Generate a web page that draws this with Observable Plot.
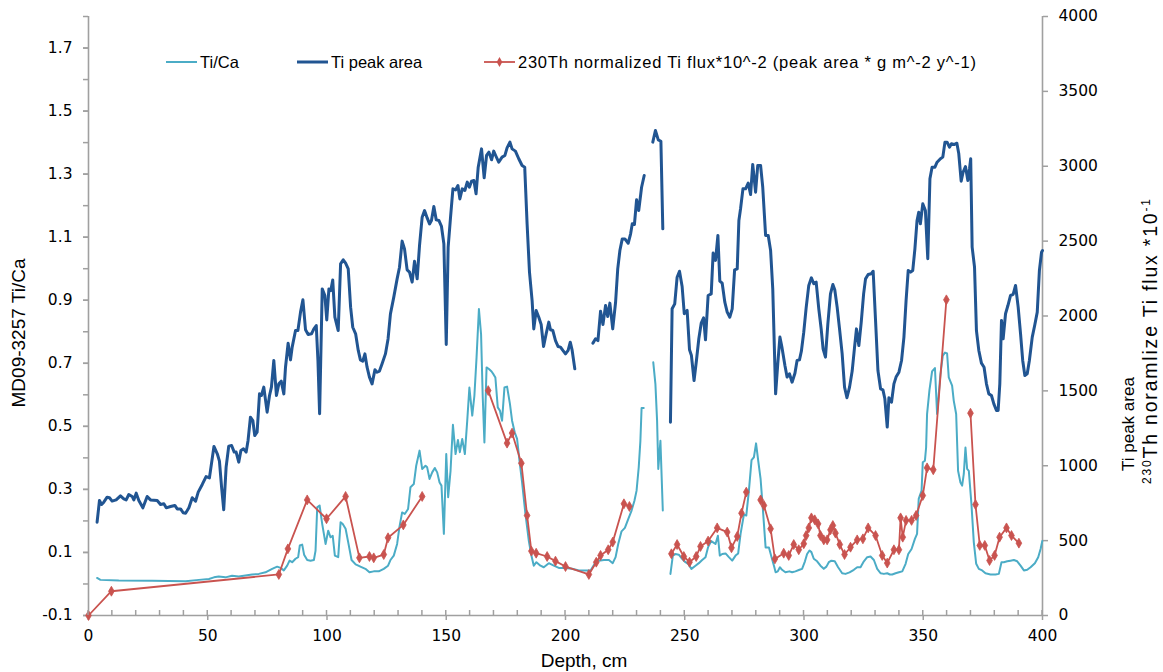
<!DOCTYPE html>
<html><head><meta charset="utf-8">
<script src="https://cdn.jsdelivr.net/npm/d3@7"></script>
<script src="https://cdn.jsdelivr.net/npm/@observablehq/plot@0.6"></script>
<style>body{margin:0;background:#fff;} svg{display:block}</style>
</head><body><div id="chart"></div>
<script>
// ---------- tick values ----------
const depthTicks = [0, 50, 100, 150, 200, 250, 300, 350, 400];
const depthMinorTicks = [0,10,20,30,40,50,60,70,80,90,100,110,120,130,140,150,160,170,180,190,200,210,220,230,240,250,260,270,280,290,300,310,320,330,340,350,360,370,380,390,400];
const leftTicks = [-0.1, 0.1, 0.3, 0.5, 0.7, 0.9, 1.1, 1.3, 1.5, 1.7];
const leftMinorTicks = [-0.1, 0, 0.1, 0.2, 0.3, 0.4, 0.5, 0.6, 0.7, 0.8, 0.9, 1.0, 1.1, 1.2, 1.3, 1.4, 1.5, 1.6, 1.7, 1.8];
const rightTicks = [0, 500, 1000, 1500, 2000, 2500, 3000, 3500, 4000];
const leftDomain = [-0.1, 1.8];
const rightDomain = [0, 4000];

// ---------- series: Ti/Ca (left axis) ; null = gap ----------
const tiCaDepth = [3.6,5.0,12.7,26.7,40.7,46.3,50.5,52.6,54.6,57.4,60.2,63.0,65.8,68.6,71.4,74.2,77.0,79.1,80.5,81.9,83.3,84.3,85.4,86.8,87.9,88.6,89.6,90.4,91.7,93.1,94.5,95.2,95.9,96.9,98.0,99.4,100.5,101.5,102.4,103.3,104.7,105.7,106.6,107.8,108.9,110.3,112.0,114.0,116.1,117.8,119.6,121.7,123.8,125.6,126.6,128.0,129.4,130.4,131.5,132.6,134.0,135.0,136.4,137.4,138.8,139.9,141.3,142.0,143.0,144.1,145.2,146.2,147.2,148.0,149.0,150.0,150.8,151.8,152.8,153.9,154.9,155.7,156.7,157.8,158.8,159.7,160.9,161.8,162.7,163.7,164.6,165.3,166.0,166.9,167.9,169.0,169.9,170.6,171.6,172.5,173.4,174.4,175.5,176.7,177.6,178.7,179.7,180.7,181.8,183.2,184.6,185.7,186.7,187.8,189.5,190.9,193.0,195.1,197.2,200.0,202.8,205.6,208.4,210.5,212.6,214.0,216.1,218.2,219.8,221.0,222.1,223.5,224.9,226.3,227.7,228.9,229.8,230.7,231.4,231.9,232.8,null,236.8,237.7,238.4,238.9,239.8,240.8,null,244.0,245.0,246.1,247.5,248.9,250.3,251.4,252.8,254.5,255.9,257.3,258.7,259.8,261.1,261.9,262.9,263.9,264.7,265.7,267.1,268.5,269.9,271.3,272.4,273.4,274.8,275.8,276.9,278.0,279.0,279.9,280.8,281.8,282.7,283.9,285.3,286.4,287.4,288.1,289.0,289.9,290.8,292.2,293.9,295.0,296.4,298.1,299.2,300.4,301.3,302.3,303.1,304.1,305.5,306.9,308.3,309.4,310.4,311.5,312.9,314.3,316.0,317.4,319.1,320.9,322.3,323.7,325.1,326.5,327.9,329.3,330.7,332.1,333.5,334.9,336.0,337.0,338.4,339.8,341.2,342.6,343.7,345.1,346.5,347.4,348.1,349.3,349.8,350.7,351.2,351.6,352.6,353.7,354.9,355.8,356.5,357.2,358.2,359.1,360.0,360.7,362.1,362.8,363.8,364.6,365.6,366.3,367.0,367.7,368.4,369.1,370.2,371.2,372.2,373.3,374.7,376.1,378.2,380.3,381.7,382.8,383.8,385.2,386.6,388.0,389.4,390.8,392.2,393.6,395.0,396.8,398.2,399.2,399.9];
const tiCa = [0.019,0.013,0.011,0.010,0.009,0.013,0.016,0.021,0.024,0.021,0.026,0.024,0.027,0.030,0.032,0.037,0.048,0.055,0.051,0.043,0.058,0.074,0.069,0.080,0.085,0.122,0.125,0.093,0.076,0.074,0.076,0.106,0.243,0.249,0.190,0.127,0.169,0.148,0.153,0.090,0.085,0.196,0.190,0.175,0.132,0.076,0.062,0.055,0.048,0.037,0.040,0.040,0.048,0.058,0.076,0.090,0.127,0.182,0.227,0.222,0.238,0.307,0.317,0.375,0.423,0.365,0.375,0.370,0.333,0.354,0.368,0.354,0.322,0.312,0.159,0.412,0.275,0.359,0.505,0.412,0.457,0.418,0.460,0.412,0.518,0.623,0.534,0.597,0.718,0.872,0.792,0.592,0.449,0.687,0.682,0.674,0.664,0.655,0.560,0.550,0.518,0.623,0.626,0.571,0.518,0.481,0.460,0.391,0.322,0.222,0.138,0.090,0.058,0.069,0.058,0.053,0.066,0.058,0.051,0.051,0.048,0.043,0.043,0.043,0.069,0.074,0.076,0.076,0.066,0.085,0.127,0.167,0.178,0.206,0.233,0.264,0.296,0.370,0.454,0.558,0.558,null,0.703,0.634,0.518,0.365,0.454,0.233,null,0.032,0.090,0.095,0.093,0.080,0.069,0.064,0.048,0.058,0.066,0.076,0.085,0.117,0.136,0.132,0.127,0.153,0.090,0.095,0.097,0.085,0.074,0.090,0.097,0.159,0.220,0.217,0.296,0.393,0.402,0.446,0.391,0.333,0.243,0.116,0.116,0.085,0.058,0.037,0.040,0.053,0.045,0.037,0.040,0.037,0.040,0.045,0.048,0.072,0.095,0.106,0.101,0.080,0.072,0.058,0.048,0.055,0.069,0.074,0.072,0.053,0.034,0.032,0.037,0.045,0.053,0.053,0.072,0.085,0.087,0.076,0.048,0.034,0.032,0.034,0.030,0.030,0.034,0.037,0.040,0.064,0.095,0.111,0.143,0.159,0.270,0.296,0.386,0.391,0.433,0.539,0.615,0.674,0.685,0.539,0.602,0.666,0.724,0.734,0.731,0.655,0.629,0.581,0.539,0.359,0.322,0.312,0.349,0.433,0.365,0.359,0.254,0.132,0.064,0.048,0.043,0.034,0.030,0.030,0.032,0.069,0.069,0.072,0.074,0.076,0.072,0.058,0.043,0.045,0.053,0.066,0.085,0.111,0.136];

// ---------- series: Ti peak area (right axis) ----------
const tiAreaDepth = [3.6,4.6,5.5,6.4,7.8,8.8,9.9,11.6,13.4,14.8,15.8,16.9,18.3,19.0,20.0,21.1,22.8,24.6,26.0,28.8,30.2,31.6,32.6,34.4,36.2,37.2,38.6,39.7,40.7,42.1,43.5,44.9,46.0,47.7,49.3,50.7,52.6,54.0,54.9,55.8,56.7,57.7,58.8,60.0,61.1,61.9,63.0,63.9,65.0,66.1,66.9,67.9,68.9,69.7,70.7,71.7,72.5,73.5,74.9,75.9,76.7,77.7,78.8,79.8,80.8,81.9,82.6,83.7,84.7,85.4,86.8,87.8,88.9,89.9,91.0,92.1,93.5,94.5,95.5,96.2,96.9,98.0,99.1,99.9,100.8,101.6,102.4,103.3,104.7,105.7,106.8,107.8,108.9,109.9,110.8,112.0,113.1,114.0,115.0,115.9,116.8,117.8,118.9,120.1,121.0,122.0,123.1,124.5,125.6,126.6,128.0,129.4,130.4,131.5,132.5,133.6,134.6,135.7,136.7,137.8,138.8,139.9,140.9,142.0,143.0,143.8,144.8,145.8,146.9,148.0,149.0,150.0,150.8,151.8,152.8,153.9,154.9,155.7,156.7,157.8,158.8,159.7,160.6,161.6,162.5,163.4,164.8,165.9,166.9,167.9,169.0,169.9,170.9,172.0,173.4,174.6,175.5,176.7,177.6,179.0,180.4,181.8,182.9,183.9,184.9,186.0,186.7,187.7,188.8,189.8,190.8,191.9,193.0,193.7,194.7,195.8,196.9,197.9,198.9,200.0,201.1,202.0,202.8,203.9,null,211.5,212.6,213.6,214.7,215.7,216.8,217.7,218.6,219.8,221.0,221.9,222.8,223.8,224.9,226.3,227.3,228.0,228.9,229.8,230.7,231.9,233.0,null,236.6,237.7,238.9,240.0,240.8,null,244.0,244.7,245.8,246.8,247.8,248.9,249.8,251.0,252.0,252.8,253.9,254.9,255.9,256.9,257.9,258.7,259.8,261.1,261.9,262.9,263.9,264.7,265.7,266.8,267.8,268.9,269.9,270.9,272.0,272.7,273.4,274.4,275.5,276.6,277.6,278.5,279.7,280.6,281.8,282.7,283.9,285.0,286.0,286.9,288.1,289.0,289.9,290.8,292.0,292.9,293.9,295.0,296.2,297.1,298.1,298.9,299.9,300.9,302.0,303.1,304.1,305.1,306.2,307.2,308.0,309.0,310.0,311.1,312.1,312.9,313.9,314.9,316.0,317.0,318.0,319.1,320.2,321.2,322.0,323.0,324.0,325.0,325.8,326.9,328.2,329.0,330.0,331.0,332.1,333.1,333.9,334.9,335.6,336.7,337.7,338.6,339.8,340.9,341.9,342.8,343.7,344.7,345.6,346.5,347.4,348.1,348.8,349.8,350.9,351.9,352.8,353.7,354.9,355.8,357.2,358.2,359.1,360.0,361.0,361.8,362.9,364.1,364.9,365.9,366.7,367.7,368.7,369.4,369.9,370.5,371.5,372.3,373.3,374.4,375.5,376.5,377.5,378.6,379.6,380.7,381.4,382.1,382.8,383.5,384.5,385.5,386.6,387.7,388.7,389.8,390.8,391.7,392.6,393.6,394.5,395.7,396.8,397.8,398.7,399.6,400.0];
const tiArea = [623,768,741,757,790,786,764,772,799,779,772,808,795,772,817,768,719,795,772,768,741,746,719,728,735,712,712,686,683,719,786,764,824,875,928,919,1129,1080,1031,857,706,991,1131,1135,1091,1091,1024,1102,1113,1091,1169,1324,1302,1202,1224,1480,1469,1525,1358,1469,1525,1703,1469,1547,1565,1480,1658,1818,1707,1792,1903,1903,2026,2108,1908,1876,1881,1914,1936,1703,1347,2181,2137,1974,2181,2170,2241,1992,1903,2348,2375,2353,2315,2059,1925,1881,1770,1707,1698,1747,1658,1592,1547,1641,1625,1632,1681,1747,1847,2014,2126,2248,2326,2500,2448,2308,2293,2226,2366,2248,2471,2660,2704,2655,2615,2638,2731,2642,2638,2598,2482,1810,2460,2660,2849,2842,2871,2782,2849,2838,2894,2860,2900,2905,2816,2994,3116,2923,3072,3094,3043,3101,3065,3027,3061,3072,3123,3161,3116,3101,3050,3005,2994,2615,2293,2103,1914,2037,1992,1943,1796,1881,1959,1908,1903,1836,1796,1792,1770,1747,1770,1825,1770,1647,null,1819,1848,1836,2032,1943,2070,1997,2086,1914,2092,2315,2437,2515,2515,2486,2549,2616,2611,2776,2704,2860,2938,null,3161,3239,3176,3167,2582,null,1291,2048,2081,2259,2299,2197,2015,2037,1774,1736,1569,1703,1848,1952,1988,1841,2137,2148,2420,2371,2538,2233,2219,2092,2026,1992,2048,2308,2315,2638,2716,2849,2849,2887,2811,3012,2827,3005,3005,2860,2538,2538,2437,2181,1480,1681,1859,1787,1669,1592,1614,1558,1618,1703,1707,1765,1892,2054,2204,2255,2215,2226,2048,1914,1781,1725,1948,2148,2210,2175,2059,1914,1747,1525,1454,1525,1632,1792,1914,1803,1959,2148,2248,2277,2282,2299,1970,1636,1514,1507,1447,1258,1454,1425,1547,1592,1625,1703,1859,2103,2304,2293,2304,2448,2638,2693,2616,2749,2704,2382,2916,2994,2994,3027,3050,3061,3161,3161,3127,3150,3145,3154,3083,2900,2960,2998,2905,2983,3050,2460,2326,1903,1770,1685,1658,1547,1480,1469,1413,1369,1369,1547,1970,1848,2015,2070,2137,2144,2204,2059,1881,1703,1603,1614,1703,1859,1943,2026,2304,2426,2437];

// ---------- series: 230Th normalized Ti flux (right axis) ----------
const fluxDepth = [0,9.6,79.8,83.6,91.7,99.8,107.8,113.6,117.8,119.6,123.8,125.6,132.0,139.9,null,167.6,175.5,177.6,181.5,183.9,185.7,187.7,192.3,195.8,200.0,209.8,212.9,214.7,217.9,219.8,224.5,226.8,null,244.4,246.8,249.6,252.0,254.8,256.6,259.8,263.6,267.8,269.6,272.0,273.8,275.8,null,281.8,283.2,286.0,287.8,291.5,293.6,295.7,297.8,299.9,300.9,302.0,303.1,304.5,305.9,306.9,308.3,309.7,311.1,312.1,313.2,315.0,317.0,319.5,322.3,324.7,326.9,330.0,332.8,334.9,337.7,339.8,340.5,341.4,342.8,345.1,347.0,349.8,351.6,354.2,359.7,null,369.8,371.9,373.7,375.8,377.8,379.9,382.0,384.9,387.0,390.1];
const flux = [0,162,274,445,772,646,795,385,394,385,407,519,605,795,null,1502,1151,1218,1017,668,430,416,394,363,327,274,356,401,439,490,746,728,null,412,474,394,356,394,461,497,585,557,452,528,683,824,null,772,735,579,378,416,401,474,439,479,534,585,652,639,612,534,505,505,572,601,550,474,407,456,505,512,585,534,401,350,439,439,652,523,635,635,668,801,986,973,2108,null,1351,741,468,468,367,401,523,585,534,483];

// ---------- styling ----------
const cyan = "#4BACC6", navy = "#215592", red = "#C9534F", axisGray = "#a0a0a0";
const toLeft = v => (v == null ? NaN : leftDomain[0] + (v - rightDomain[0]) * (leftDomain[1] - leftDomain[0]) / (rightDomain[1] - rightDomain[0]));
const toRight = y => rightDomain[0] + (y - leftDomain[0]) * (rightDomain[1] - rightDomain[0]) / (leftDomain[1] - leftDomain[0]);

const tiCaRows = tiCaDepth.map((d, i) => ({depth: d, value: tiCa[i] == null ? NaN : tiCa[i]}));
const areaRows = tiAreaDepth.map((d, i) => ({depth: d, value: toLeft(tiArea[i])}));
const fluxRows = fluxDepth.map((d, i) => ({depth: d, value: toLeft(flux[i])}));

const W = 1163, H = 672, mL = 88, mR = 121, mT = 16, mB = 57;

const chart = Plot.plot({
  width: W, height: H,
  marginLeft: mL, marginRight: mR, marginTop: mT, marginBottom: mB,
  style: {fontFamily: "'DejaVu Sans', Verdana, sans-serif", fontSize: "15.5px", color: "#000", background: "#fff"},
  x: {domain: [0, 400]},
  y: {domain: leftDomain},
  marks: [
    // axis lines
    Plot.ruleY([leftDomain[0]], {stroke: axisGray, strokeWidth: 1.6}),
    Plot.ruleX([0, 400], {stroke: axisGray, strokeWidth: 1.6}),
    // bottom axis
    Plot.axisX({ticks: depthTicks, tickSize: 5, tickPadding: 9, stroke: axisGray, strokeWidth: 1.5, label: null, tickFormat: d => String(d)}),
    // left axis
    Plot.axisY({anchor: "left", ticks: leftMinorTicks, tickSize: 5, stroke: axisGray, strokeWidth: 1.5, label: null, tickFormat: () => ""}),
    Plot.axisY({anchor: "left", ticks: leftTicks, tickSize: 5, tickPadding: 11, stroke: axisGray, strokeWidth: 1.5, label: null, tickFormat: d => d.toFixed(1)}),
    // right axis
    Plot.axisY({anchor: "right", ticks: rightTicks.map(toLeft), tickSize: 5, tickPadding: 11, stroke: axisGray, strokeWidth: 1.5, label: null, tickFormat: d => String(Math.round(toRight(d)))}),
    // data
    Plot.line(tiCaRows, {x: "depth", y: "value", stroke: cyan, strokeWidth: 2, strokeLinejoin: "round"}),
    Plot.line(areaRows, {x: "depth", y: "value", stroke: navy, strokeWidth: 3, strokeLinejoin: "round"}),
    Plot.line(fluxRows, {x: "depth", y: "value", stroke: red, strokeWidth: 1.8, strokeLinejoin: "round"}),
    Plot.dot(fluxRows, {x: "depth", y: "value", symbol: "diamond", r: 3, fill: red, stroke: red, strokeWidth: 0.8})
  ]
});

document.getElementById("chart").appendChild(chart);

// extras drawn with d3 using the plot's scales
const svg = d3.select(chart);
const xs = chart.scale("x");
const y0 = chart.scale("y").apply(leftDomain[0]);
svg.append("g").selectAll("line").data(depthMinorTicks).join("line")
  .attr("x1", d => xs.apply(d)).attr("x2", d => xs.apply(d))
  .attr("y1", y0).attr("y2", y0 - 5)
  .attr("stroke", axisGray).attr("stroke-width", 1.5);

const titleFont = "'Liberation Sans', Arial, sans-serif";
// x title
svg.append("text").attr("x", 584).attr("y", 667)
  .attr("text-anchor", "middle").attr("font-family", titleFont).attr("font-size", 19).attr("fill", "#000")
  .text("Depth, cm");
// left title
svg.append("text").attr("transform", `translate(25,333) rotate(-90)`)
  .attr("text-anchor", "middle").attr("font-family", titleFont).attr("font-size", 19).attr("fill", "#000")
  .text("MD09-3257 Ti/Ca");
// right title (two lines)
svg.append("text").attr("transform", `translate(1134,471) rotate(-90)`)
  .attr("text-anchor", "start").attr("font-family", titleFont).attr("font-size", 17).attr("fill", "#000")
  .text("Ti peak area");
const t2 = svg.append("text").attr("transform", `translate(1157,484) rotate(-90)`)
  .attr("text-anchor", "start").attr("font-family", titleFont).attr("font-size", 19.5).attr("fill", "#000")
  .attr("textLength", 285).attr("lengthAdjust", "spacing");
t2.append("tspan").attr("font-size", 12).attr("dy", -6).text("230");
t2.append("tspan").attr("dy", 6).text("Th noramlize Ti flux *10");
t2.append("tspan").attr("font-size", 12).attr("dy", -7).text("-1");

// legend
const legFont = "'Liberation Sans', Arial, sans-serif";
const leg = svg.append("g").attr("font-family", legFont).attr("font-size", 16.5).attr("fill", "#000").attr("text-anchor", "start");
const legendItems = [
  {x: 166, color: cyan, w: 2, label: "Ti/Ca", marker: false, len: null},
  {x: 297, color: navy, w: 3, label: "Ti peak area", marker: false, len: null},
  {x: 484, color: red, w: 1.8, label: "230Th normalized Ti flux*10^-2 (peak area * g m^-2 y^-1)", marker: true, len: 458}
];
const ly = 62;
legendItems.forEach(it => {
  leg.append("line").attr("x1", it.x).attr("x2", it.x + 31).attr("y1", ly).attr("y2", ly)
    .attr("stroke", it.color).attr("stroke-width", it.w);
  if (it.marker) leg.append("path").attr("d", d3.symbol(d3.symbolDiamond, 28)()).attr("transform", `translate(${it.x + 15.5},${ly})`).attr("fill", it.color);
  const t = leg.append("text").attr("x", it.x + 34).attr("y", ly + 6).attr("text-anchor", "start").text(it.label);
  if (it.len) t.attr("textLength", it.len).attr("lengthAdjust", "spacing");
});
</script></body></html>
